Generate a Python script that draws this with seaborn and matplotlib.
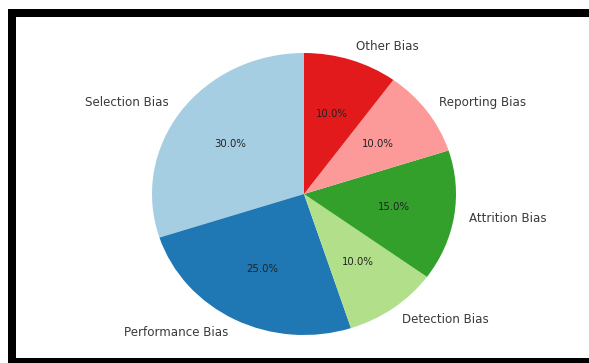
import matplotlib
matplotlib.use("Agg")
import matplotlib.pyplot as plt
from matplotlib.patches import Rectangle
import seaborn as sns

categories = ["Selection Bias", "Performance Bias", "Detection Bias",
              "Attrition Bias", "Reporting Bias", "Other Bias"]
shares = [30, 25, 10, 15, 10, 10]

W, H = 589, 363
fig = plt.figure(figsize=(W / 100, H / 100), dpi=100)
fig.patch.set_facecolor("white")

# pie area in pixel coordinates (left, bottom, width, height)
L, B, R, T = 152, 28, 456, 310
ax = fig.add_axes([L / W, B / H, (R - L) / W, (T - B) / H])

colors = sns.color_palette("Paired", len(categories))
wedges, texts, autotexts = ax.pie(
    shares, labels=categories, colors=colors, startangle=90,
    autopct="%1.1f%%", labeldistance=1.1, pctdistance=0.6,
    textprops={"fontsize": 8.6, "color": "#3a3a3a"},
)
for t in autotexts:
    t.set_fontsize(7.3)
    t.set_color("#222222")
ax.set_aspect("auto")
ax.set_xlim(-1, 1)
ax.set_ylim(-1, 1)
ax.axis("off")

# black frame around the chart
def px_rect(x0, y0, x1, y1):
    fig.add_artist(Rectangle((x0 / W, 1 - y1 / H), (x1 - x0) / W, (y1 - y0) / H,
                             transform=fig.transFigure, facecolor="black",
                             edgecolor="none", zorder=10))

px_rect(8, 9, W, 17)      # top
px_rect(8, 9, 16, H)      # left
px_rect(8, 358, W, H)     # bottom

fig.savefig("out.png", dpi=100, facecolor="white")
